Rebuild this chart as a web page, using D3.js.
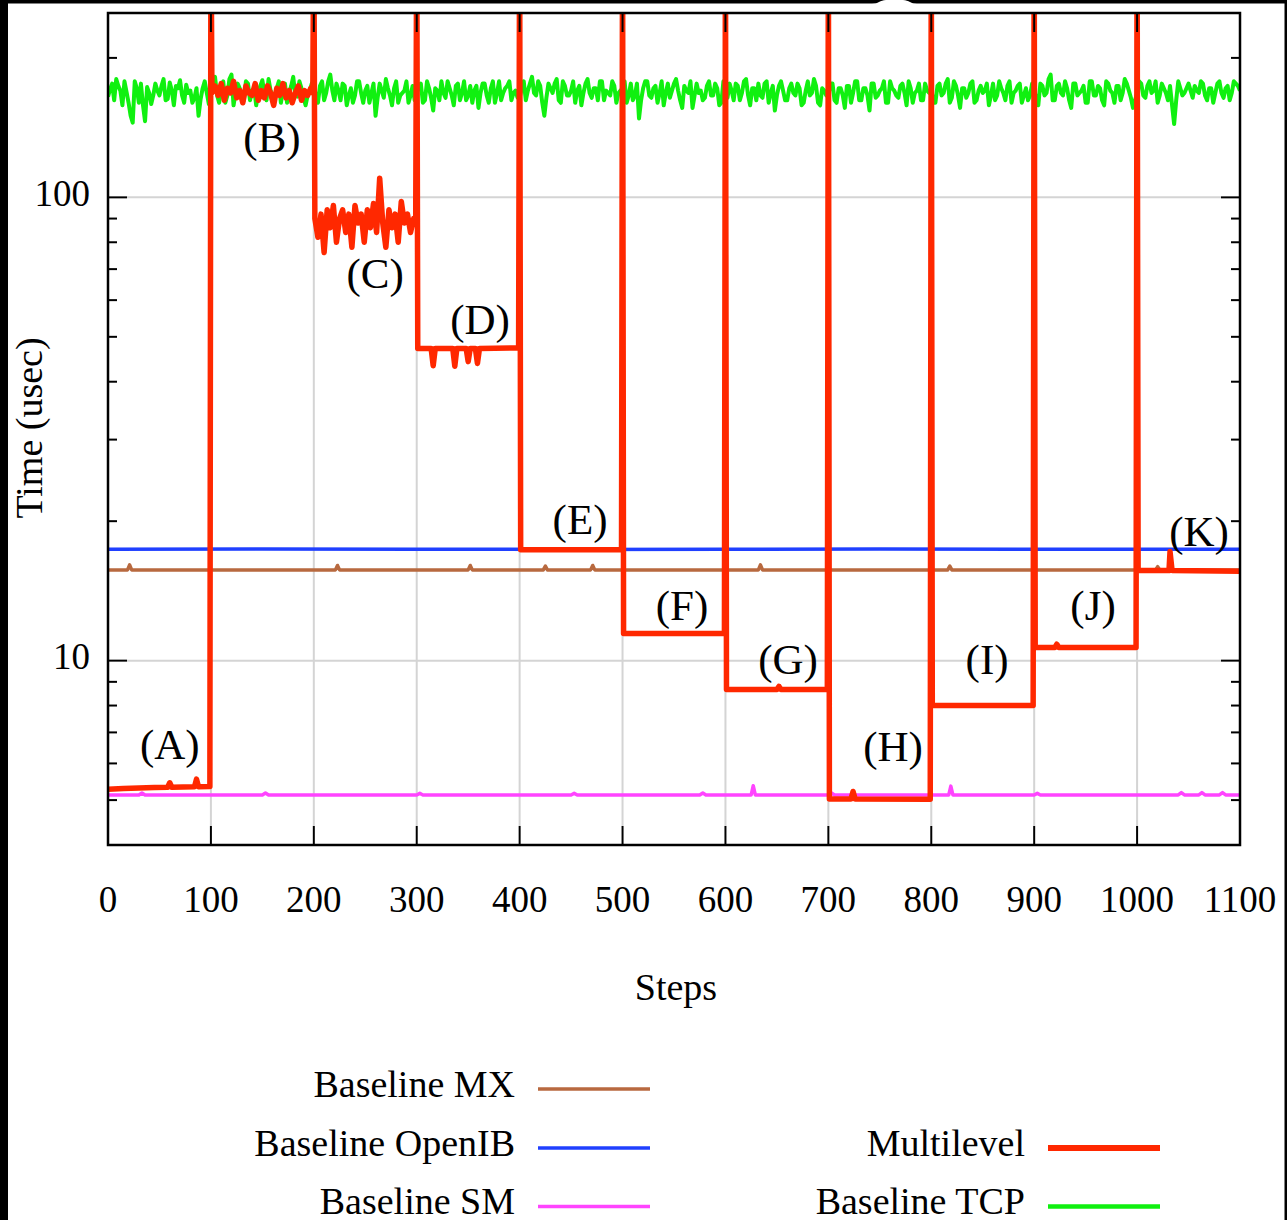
<!DOCTYPE html>
<html><head><meta charset="utf-8">
<script src="https://cdn.jsdelivr.net/npm/d3@7"></script>
<style>body{margin:0;background:#000}svg{display:block}</style>
</head><body>
<svg id="c" width="1287" height="1220"></svg>
<script>
// ---------- data ----------
const xTicks = [0,100,200,300,400,500,600,700,800,900,1000,1100];
const yMajorTicks = [10,100];
const yMinorTicks = [5,6,7,8,9,20,30,40,50,60,70,80,90,200];

const seriesNames = ["Baseline MX","Baseline OpenIB","Baseline SM","Multilevel","Baseline TCP"];
const seriesColors = ["#b8693f","#2040ff","#ff44ff","#ff2800","#10f010"];
const seriesWidths = [3.5,3.5,3.5,5.5,4];

const mxSteps  = [0,19,21,23,221,223,225,350,352,354,423,425,427,469,471,473,632,634,636,816,818,820,1018,1020,1022,1100];
const mxValues = [15.7,15.7,16.1,15.7,15.7,16.05,15.7,15.7,16.05,15.7,15.7,16.0,15.7,15.7,16.05,15.7,15.7,16.1,15.7,15.7,16.0,15.7,15.7,15.95,15.7,15.7];

const openibSteps  = [0,150,300,450,600,750,900,1100];
const openibValues = [17.4,17.42,17.4,17.38,17.4,17.42,17.4,17.4];

const smSteps  = [0,30,33,36,150,153,156,300,303,306,450,453,456,575,578,581,625,627,629,700,703,706,817,819,821,900,903,906,1040,1043,1046,1060,1063,1066,1080,1083,1086,1100];
const smValues = [5.13,5.13,5.18,5.13,5.13,5.18,5.13,5.13,5.17,5.13,5.13,5.17,5.13,5.13,5.18,5.13,5.13,5.37,5.13,5.13,5.18,5.13,5.13,5.36,5.13,5.13,5.17,5.13,5.13,5.19,5.13,5.13,5.19,5.13,5.13,5.19,5.13,5.13];

const multilevelSteps = [
  0,15,30,45,58,60,62,84,86,88,99,100,
  101,104,107,110,113,116,119,122,125,128,131,134,137,140,143,146,149,152,155,158,161,164,167,170,173,176,179,182,185,188,191,194,197,199,200,
  201,204,207,210,213,216,219,222,225,228,231,234,237,240,243,246,249,252,255,258,261,264,267,270,273,276,279,282,285,288,291,294,297,299,300,
  301,314,316,318,335,337,339,348,350,352,357,359,361,399,400,
  401,499,500,
  501,599,600,
  601,650,652,654,699,700,
  701,722,724,726,799,800,
  801,899,900,
  901,920,922,924,999,1000,
  1001,1031,1032,1034,1100
];
const multilevelValues = [
  5.28,5.3,5.31,5.32,5.33,5.45,5.33,5.34,5.55,5.34,5.35,400,
  168,174,166,176,162,172,168,178,164,170,160,174,168,166,176,162,170,164,174,168,158,172,166,176,164,170,160,168,174,162,170,166,172,168,400,
  90,82,92,76,94,86,96,80,90,94,84,92,78,96,88,92,80,94,86,97,84,110,88,78,94,86,92,80,98,88,92,84,90,88,400,
  47.2,47.2,43.3,47.2,47.2,43.2,47.2,47.2,44.2,47.2,47.2,43.8,47.2,47.3,400,
  17.35,17.35,400,
  11.45,11.45,400,
  8.66,8.66,8.8,8.66,8.66,400,
  5.03,5.03,5.22,5.03,5.02,400,
  8.0,8.0,400,
  10.67,10.67,10.85,10.67,10.67,400,
  15.65,15.65,17.2,15.65,15.6
];

// TCP: values at steps 0,4,8,...,1100
const tcpValues = [
165,176,180,170,178,160,145,172,176,146,168,166,170,174,162,177,158,172,166,175,170,164,150,172,168,
170,182,160,178,166,184,168,172,162,176,170,158,174,168,180,164,172,160,176,168,182,165,172,158,170,
174,160,178,168,184,162,170,176,158,172,166,178,160,174,168,150,176,164,172,158,178,166,170,160,174,
168,176,162,172,154,170,178,164,172,158,176,168,162,174,170,156,176,166,172,160,178,168,174,162,170,
164,178,170,182,166,174,150,176,168,180,160,174,166,178,170,158,176,168,172,162,178,170,166,174,168,
172,160,176,166,148,172,178,164,174,168,158,176,170,180,162,174,168,156,176,170,164,178,166,172,160,
170,176,162,174,168,180,158,172,176,164,178,168,154,174,170,162,176,166,172,160,178,168,174,158,170,
166,176,160,172,156,174,168,178,162,172,154,176,166,172,160,178,170,164,176,158,172,168,176,162,170,
172,160,176,168,180,164,174,156,172,168,178,162,174,170,158,176,166,172,162,178,168,174,160,172,166,
170,158,174,168,184,162,176,166,172,156,176,168,174,160,178,166,172,158,176,168,174,162,180,170,156,
168,176,164,178,170,160,176,168,174,144,178,166,172,170,174,168,176,162,172,168,178,164,174,168,176,170
];
// TCP: values at steps 2,6,10,...,1098
const tcpValuesMid = [
171,162,174,158,169,150,178,160,158,173,159,176,166,180,163,170,174,179,160,168,160,172,163,178,159,
178,166,171,160,180,158,176,166,178,162,172,168,179,162,170,166,178,170,160,174,166,178,164,166,176,
166,174,162,178,170,176,162,174,166,160,178,168,170,160,176,164,170,180,166,172,160,168,178,166,162,
174,160,178,164,172,162,168,178,166,174,162,178,166,160,174,168,176,160,178,168,162,172,178,168,164,
172,162,176,168,178,160,164,172,176,162,178,166,170,160,174,168,180,164,172,178,162,168,178,160,170,
178,166,162,176,162,178,166,172,160,178,168,164,176,170,156,170,178,166,168,162,174,166,176,158,178,
164,170,176,162,178,166,172,162,166,176,160,174,166,178,162,172,168,176,158,170,166,180,160,172,166,
176,162,172,166,174,160,178,162,172,166,176,164,170,178,160,172,166,174,168,178,160,170,162,176,168,
160,174,166,176,160,178,166,172,164,176,160,170,168,176,166,162,178,168,174,160,170,176,166,162,176,
164,176,166,180,162,174,168,178,162,176,166,170,160,178,166,174,162,178,170,160,174,168,176,164,162,
178,166,174,168,178,166,172,162,158,162,172,168,176,164,170,178,166,172,160,176,168,172,162,178,174
];

const phaseLabels = ["(A)","(B)","(C)","(D)","(E)","(F)","(G)","(H)","(I)","(J)","(K)"];
const phaseLabelSteps  = [60,159.4,259.5,361.5,458.7,557.8,660.8,762.8,854.2,957.2,1060.2];
const phaseLabelValues = [6.14,125,63.6,50.8,18.8,12.26,9.37,6.08,9.37,12.26,17.72];

// ---------- drawing ----------
const W = 1287, H = 1220;
const plot = {left:108, right:1240, top:13, bottom:845};
const font = "'Liberation Serif','Times New Roman',Times,serif";
const svg = d3.select("#c");

svg.append("rect").attr("width",W).attr("height",H).attr("fill","#000");
svg.append("rect").attr("x",8).attr("y",3.5).attr("width",1276.5).attr("height",H).attr("fill","#fff");
svg.append("path").attr("d","M872,4 C878,4 880,0 886,0 L903,0 C909,0 911,4 917,4 Z").attr("fill","#fff");

const x = d3.scaleLinear().domain([0,1100]).range([plot.left,plot.right]);
const y = d3.scaleLog().domain([4,250]).range([plot.bottom,plot.top]);

const MAJ = 19, MIN = 9;
const grid = svg.append("g").attr("stroke","#d4d4d4").attr("stroke-width",2);
xTicks.filter(v=>v>0 && v<1100).forEach(v=>{
  grid.append("line").attr("x1",x(v)).attr("x2",x(v)).attr("y1",plot.top+MAJ).attr("y2",plot.bottom-MAJ);
});
yMajorTicks.forEach(v=>{
  grid.append("line").attr("y1",y(v)).attr("y2",y(v)).attr("x1",plot.left+MAJ).attr("x2",plot.right-MAJ);
});

// data lines
const clip = svg.append("defs").append("clipPath").attr("id","pc");
clip.append("rect").attr("x",plot.left).attr("y",plot.top).attr("width",plot.right-plot.left).attr("height",plot.bottom-plot.top);
const lineGen = d3.line().x(d=>x(d[0])).y(d=>y(d[1]));
const dataG = svg.append("g").attr("clip-path","url(#pc)");
const zip = (s,v)=>s.map((st,i)=>[st,v[i]]);
const tcpPoints = [];
tcpValues.forEach((v,i)=>{
  tcpPoints.push([i*4,v]);
  if (i < tcpValuesMid.length) tcpPoints.push([i*4+2,tcpValuesMid[i]]);
});
const seriesData = [
  zip(mxSteps,mxValues),
  zip(openibSteps,openibValues),
  zip(smSteps,smValues),
  zip(multilevelSteps,multilevelValues),
  tcpPoints
];
const drawOrder = [0,1,2,4,3];
drawOrder.forEach(i=>{
  dataG.append("path").attr("d",lineGen(seriesData[i])).attr("fill","none")
    .attr("stroke",seriesColors[i]).attr("stroke-width",seriesWidths[i])
    .attr("stroke-linejoin","round").attr("stroke-linecap","butt");
});

// ticks
const tk = svg.append("g").attr("stroke","#000").attr("stroke-width",2);
xTicks.forEach(v=>{
  tk.append("line").attr("x1",x(v)).attr("x2",x(v)).attr("y1",plot.bottom).attr("y2",plot.bottom-MAJ);
  tk.append("line").attr("x1",x(v)).attr("x2",x(v)).attr("y1",plot.top).attr("y2",plot.top+MAJ);
});
yMajorTicks.forEach(v=>{
  tk.append("line").attr("y1",y(v)).attr("y2",y(v)).attr("x1",plot.left).attr("x2",plot.left+MAJ);
  tk.append("line").attr("y1",y(v)).attr("y2",y(v)).attr("x1",plot.right).attr("x2",plot.right-MAJ);
});
yMinorTicks.forEach(v=>{
  tk.append("line").attr("y1",y(v)).attr("y2",y(v)).attr("x1",plot.left).attr("x2",plot.left+MIN);
  tk.append("line").attr("y1",y(v)).attr("y2",y(v)).attr("x1",plot.right).attr("x2",plot.right-MIN);
});

// border
svg.append("rect").attr("x",plot.left).attr("y",plot.top).attr("width",plot.right-plot.left)
  .attr("height",plot.bottom-plot.top).attr("fill","none").attr("stroke","#000").attr("stroke-width",2.5);

// tick labels
const txt = svg.append("g").attr("font-family",font).attr("fill","#000");
xTicks.forEach(v=>{
  txt.append("text").attr("x",x(v)).attr("y",912).attr("text-anchor","middle").attr("font-size",37).text(v);
});
yMajorTicks.forEach(v=>{
  txt.append("text").attr("x",90).attr("y",y(v)+8.5).attr("text-anchor","end").attr("font-size",37).text(v);
});
txt.append("text").attr("x",676).attr("y",1000).attr("text-anchor","middle").attr("font-size",38).text("Steps");
txt.append("text").attr("transform","translate(42,428) rotate(-90)").attr("text-anchor","middle").attr("font-size",38).text("Time (usec)");

// phase labels
phaseLabels.forEach((l,i)=>{
  txt.append("text").attr("x",x(phaseLabelSteps[i])).attr("y",y(phaseLabelValues[i]))
    .attr("text-anchor","middle").attr("font-size",43).text(l);
});

// legend
const legendCol = [0,0,0,1,1];
const legendRow = [0,1,2,1,2];
const colTextRight = [515,1025], colLineX = [[538,650],[1048,1160]];
const rowBase = [1097,1156,1214], rowLine = [1089,1148,1206.5];
seriesNames.forEach((n,i)=>{
  const c = legendCol[i], r = legendRow[i];
  txt.append("text").attr("x",colTextRight[c]).attr("y",rowBase[r]).attr("text-anchor","end").attr("font-size",38).text(n);
  svg.append("line").attr("x1",colLineX[c][0]).attr("x2",colLineX[c][1]).attr("y1",rowLine[r]).attr("y2",rowLine[r])
    .attr("stroke",seriesColors[i]).attr("stroke-width",i===3?6:(i===4?4.5:3.5));
});
</script>
</body></html>
